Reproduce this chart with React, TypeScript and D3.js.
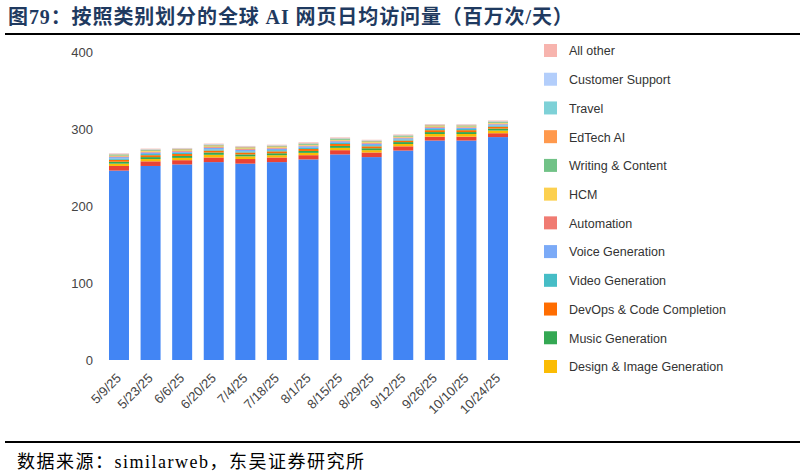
import React from 'react';
import * as d3 from 'd3';

const dates = ['5/9/25', '5/23/25', '6/6/25', '6/20/25', '7/4/25', '7/18/25', '8/1/25', '8/15/25', '8/29/25', '9/12/25', '9/26/25', '10/10/25', '10/24/25'];

// two bottom series: their legend entries are cut off in the source chart
const unlisted1 = [246, 252, 254, 257, 255, 257, 260.5, 267, 263.5, 272, 285, 285, 289.5];
const unlisted2 = [6, 6, 5.5, 6, 6, 6, 5.5, 5.5, 6, 5.5, 5, 5, 5];
const designImage = [3, 3, 3, 3.5, 3.5, 3, 3, 3, 3, 3, 3.5, 3.5, 3.5];
const musicGen = [2.5, 2.5, 2.5, 3, 2.5, 2.5, 2.5, 2.5, 2.5, 2.5, 2.5, 2.5, 2.5];
const devOps = [2.5, 2.5, 2.5, 2.5, 2.5, 2.5, 2.5, 2.5, 2.5, 2, 2.5, 2.5, 2.5];
const videoGen = [1.5, 1.5, 1.5, 1.5, 1.5, 1.5, 1.5, 1.5, 1.5, 1.5, 1.5, 1.5, 1.5];
const voiceGen = [2, 2, 1.5, 2, 2, 2, 2, 2, 2, 1.5, 1.5, 1.5, 1.5];
const automation = [1, 1, 1, 1, 1, 1, 1, 1, 1, 1, 1, 0.8, 1];
const hcm = [1, 1, 1, 1, 1, 1, 1, 1, 1, 1, 1, 1, 1];
const writing = [1, 1, 1, 1.2, 1, 1, 1, 1, 1, 1, 1, 1, 1];
const edtech = [0.6, 0.7, 0.6, 0.7, 0.6, 0.7, 0.7, 0.6, 0.6, 0.6, 0.6, 0.6, 0.6];
const travel = [0.4, 0.4, 0.4, 0.5, 0.4, 0.4, 0.4, 0.4, 0.4, 0.4, 0.4, 0.4, 0.4];
const customerSupport = [0.3, 0.3, 0.3, 0.4, 0.3, 0.3, 0.3, 0.3, 0.3, 0.3, 0.3, 0.3, 0.3];
const allOther = [0.6, 0.6, 0.6, 0.7, 0.7, 0.7, 0.8, 0.7, 0.7, 0.6, 0.7, 0.6, 0.7];

const yTicks = [0, 100, 200, 300, 400];

// bottom to top
const series = [
  { key: 'unlisted1', name: '', color: '#4285f4', values: unlisted1 },
  { key: 'unlisted2', name: '', color: '#ea4335', values: unlisted2 },
  { key: 'design', name: 'Design & Image Generation', color: '#fbbc04', values: designImage },
  { key: 'music', name: 'Music Generation', color: '#34a853', values: musicGen },
  { key: 'devops', name: 'DevOps & Code Completion', color: '#ff6d01', values: devOps },
  { key: 'video', name: 'Video Generation', color: '#46bdc6', values: videoGen },
  { key: 'voice', name: 'Voice Generation', color: '#7baaf7', values: voiceGen },
  { key: 'automation', name: 'Automation', color: '#f07b72', values: automation },
  { key: 'hcm', name: 'HCM', color: '#fcd04f', values: hcm },
  { key: 'writing', name: 'Writing & Content', color: '#71c287', values: writing },
  { key: 'edtech', name: 'EdTech AI', color: '#ff994d', values: edtech },
  { key: 'travel', name: 'Travel', color: '#7ed1d7', values: travel },
  { key: 'cs', name: 'Customer Support', color: '#b3cefb', values: customerSupport },
  { key: 'other', name: 'All other', color: '#f7b4ae', values: allOther },
];

const W = 805;
const H = 474;

export default function App() {
  const rows = dates.map((d, i) => {
    const r: any = { date: d };
    series.forEach(s => { r[s.key] = s.values[i]; });
    return r;
  });
  const stacked = d3.stack<any>().keys(series.map(s => s.key))(rows);

  const x = d3.scaleBand<string>().domain(dates).range([97.4, 519.6]).padding(0.367);
  const y = d3.scaleLinear().domain([0, 400]).range([360, 52]);

  const legendItems = series.filter(s => s.name).reverse();
  const legendY = d3.scaleLinear().domain([0, legendItems.length - 1]).range([51, 367]);

  return (
    <svg width={W} height={H} style={{ position: 'absolute', left: 0, top: 0, background: '#fff' }}>
      <text x={8} y={24} fill="#1f3a60" fontSize={20} fontWeight="bold" letterSpacing={0.9}
        fontFamily='"Liberation Serif", "Noto Sans CJK SC", serif'>
        图79：按照类别划分的全球 AI 网页日均访问量（百万次/天）
      </text>
      <line x1={5} x2={800} y1={34} y2={34} stroke="#000" strokeWidth={2} />

      <g fontFamily='"Liberation Sans", Arial, sans-serif' fontSize={13} fill="#444">
        {yTicks.map(t => (
          <text key={t} x={93} y={y(t)} dy="0.35em" textAnchor="end">{t}</text>
        ))}
      </g>

      <g>
        {stacked.map((layer, li) => (
          <g key={layer.key} fill={series[li].color}>
            {layer.map((d, i) => (
              <rect key={i} x={x(dates[i])} width={x.bandwidth()}
                y={y(d[1])} height={Math.max(0, y(d[0]) - y(d[1]))} />
            ))}
          </g>
        ))}
      </g>

      <g fontFamily='"Liberation Sans", Arial, sans-serif' fontSize={13} fill="#444">
        {dates.map(d => (
          <text key={d} textAnchor="end"
            transform={`translate(${(x(d) as number) + x.bandwidth() / 2 + 3},${379}) rotate(-45)`}>
            {d}
          </text>
        ))}
      </g>

      <g fontFamily='"Liberation Sans", Arial, sans-serif' fontSize={12.5} fill="#333">
        {legendItems.map((s, i) => (
          <g key={s.key} transform={`translate(544,${legendY(i)})`}>
            <rect x={0} y={-7} width={13} height={13} fill={s.color} />
            <text x={25} y={0} dy="0.35em">{s.name}</text>
          </g>
        ))}
      </g>

      <line x1={5} x2={800} y1={442} y2={442} stroke="#000" strokeWidth={2} />
      <text x={17} y={468} fill="#000" fontSize={18} letterSpacing={1.5}
        fontFamily='"Liberation Serif", "Noto Sans CJK SC", serif'>
        数据来源：similarweb，东吴证券研究所
      </text>
    </svg>
  );
}
